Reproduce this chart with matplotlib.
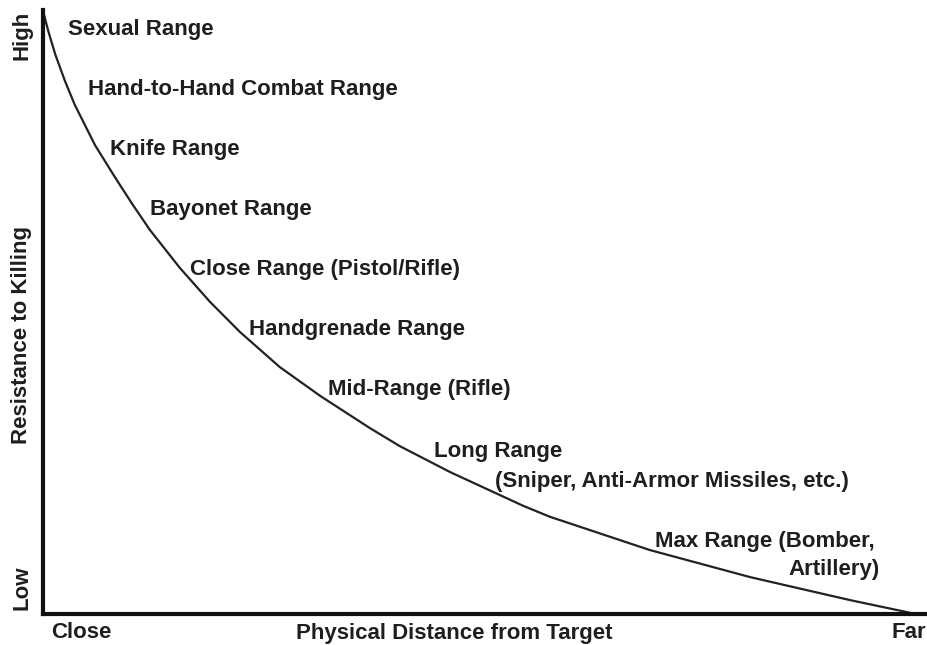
import matplotlib
matplotlib.use('Agg')
import matplotlib.pyplot as plt

# 字体：Liberation Sans 粗体（接近 Arial Bold）
plt.rcParams['font.family'] = ['Liberation Sans', 'DejaVu Sans']
plt.rcParams['font.weight'] = 'bold'

# 曲线数据（距离, 杀戮阻力），0..1 归一化
distance = [0.001, 0.006, 0.014, 0.025, 0.036, 0.059, 0.082, 0.101, 0.121,
            0.155, 0.189, 0.223, 0.268, 0.314, 0.370, 0.404, 0.461, 0.544,
            0.574, 0.687, 0.801, 0.914, 0.982]
resistance = [0.993, 0.965, 0.926, 0.882, 0.843, 0.776, 0.722, 0.679, 0.636,
              0.573, 0.517, 0.467, 0.409, 0.361, 0.308, 0.278, 0.235, 0.179,
              0.161, 0.106, 0.061, 0.023, 0.002]

range_labels = ['Sexual Range', 'Hand-to-Hand Combat Range', 'Knife Range',
                'Bayonet Range', 'Close Range (Pistol/Rifle)', 'Handgrenade Range',
                'Mid-Range (Rifle)', 'Long Range']
sub_labels = ['(Sniper, Anti-Armor Missiles, etc.)', 'Max Range (Bomber,', 'Artillery)']

# 标签位置（像素 -> 轴坐标）
W, H = 928, 645
x0, x1, y0, y1 = 43, 926, 614, 10
def ax_xy(px, py):
    return (px - x0) / (x1 - x0), (y0 - py) / (y0 - y1)

label_pos = [(68, 29), (88, 90), (110, 150), (150, 210), (190, 270),
             (249, 329), (328, 389), (434, 451)]

fig = plt.figure(figsize=(W / 100, H / 100), dpi=100)
ax = fig.add_axes([x0 / W, (H - y0) / H, (x1 - x0) / W, (y0 - y1) / H])
ax.plot(distance, resistance, color='#222222', lw=1.6, solid_capstyle='round',
        solid_joinstyle='round')
ax.set_xlim(0, 1)
ax.set_ylim(0, 1)
for s in ['top', 'right']:
    ax.spines[s].set_visible(False)
for s in ['left', 'bottom']:
    ax.spines[s].set_linewidth(3)
    ax.spines[s].set_color('#111111')
ax.set_xticks([])
ax.set_yticks([])

fs = 16
tc = '#1e1e1e'
for lab, (px, py) in zip(range_labels, label_pos):
    ax.text(*ax_xy(px, py), lab, transform=ax.transAxes, fontsize=fs,
            ha='left', va='center', color=tc)
ax.text(*ax_xy(495, 482), sub_labels[0], transform=ax.transAxes, fontsize=fs,
        ha='left', va='center', color=tc)
ax.text(*ax_xy(655, 541), sub_labels[1], transform=ax.transAxes, fontsize=fs,
        ha='left', va='center', color=tc)
ax.text(*ax_xy(880, 570), sub_labels[2], transform=ax.transAxes, fontsize=fs,
        ha='right', va='center', color=tc)

# 坐标轴文字
fig.text(22 / W, 1 - 35 / H, 'High', rotation=90, ha='center', va='center', fontsize=fs, color=tc)
fig.text(22 / W, 1 - 588 / H, 'Low', rotation=90, ha='center', va='center', fontsize=fs, color=tc)
fig.text(22 / W, 1 - 335 / H, 'Resistance to Killing', rotation=90, ha='center', va='center',
         fontsize=fs, color=tc)
fig.text(51 / W, 1 - 633 / H, 'Close', ha='left', va='center', fontsize=fs, color=tc)
fig.text(454 / W, 1 - 633 / H, 'Physical Distance from Target', ha='center', va='center',
         fontsize=fs, color=tc)
fig.text(926 / W, 1 - 633 / H, 'Far', ha='right', va='center', fontsize=fs, color=tc)

fig.savefig('out.png', dpi=100)
